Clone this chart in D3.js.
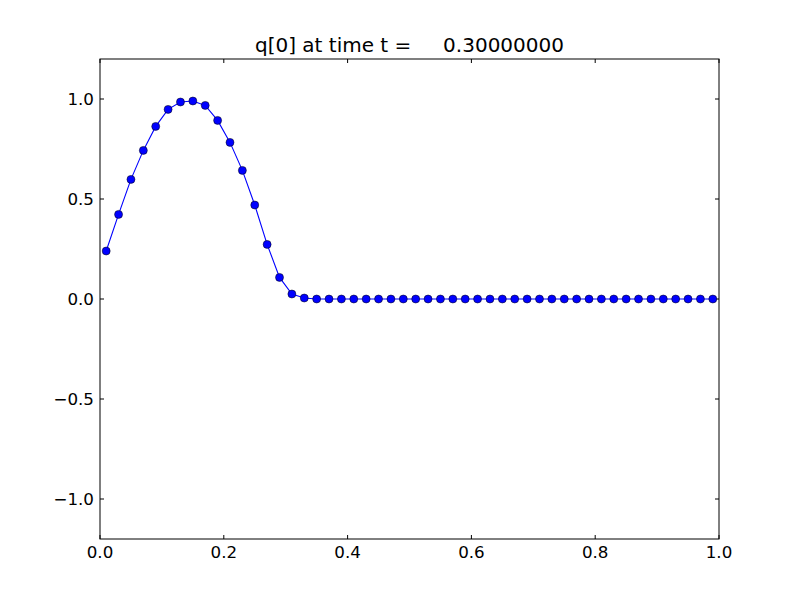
<!DOCTYPE html>
<html><head><meta charset="utf-8">
<script src="https://d3js.org/d3.v7.min.js"></script>
<style>body{margin:0;background:#fff}</style>
</head><body>
<script>
const titleText = "q[0] at time t =     0.30000000";
const xValues = [0.01,0.03,0.05,0.07,0.09,0.11,0.13,0.15,0.17,0.19,0.21,0.23,0.25,0.27,0.29,0.31,0.33,0.35,0.37,0.39,0.41,0.43,0.45,0.47,0.49,0.51,0.53,0.55,0.57,0.59,0.61,0.63,0.65,0.67,0.69,0.71,0.73,0.75,0.77,0.79,0.81,0.83,0.85,0.87,0.89,0.91,0.93,0.95,0.97,0.99];
const qValues = [0.24,0.423,0.598,0.743,0.863,0.948,0.985,0.99,0.968,0.893,0.783,0.643,0.47,0.273,0.108,0.025,0.005,0,0,0,0,0,0,0,0,0,0,0,0,0,0,0,0,0,0,0,0,0,0,0,0,0,0,0,0,0,0,0,0,0];
const xTicks = [0,0.2,0.4,0.6,0.8,1.0];
const yTicks = [-1.0,-0.5,0.0,0.5,1.0];

const W=800,H=600, L=100,R=719,T=59,B=539;
const svg=d3.select("body").append("svg").attr("width",W).attr("height",H)
  .style("font-family","'DejaVu Sans'");
svg.append("rect").attr("width",W).attr("height",H).attr("fill","#fff");
const x=d3.scaleLinear().domain([0,1]).range([L,R]);
const y=d3.scaleLinear().domain([-1.2,1.2]).range([B,T]);
const fmt=d3.format(".1f");
const minus=s=>s.replace("-","\u2212");

const tk=4;
xTicks.forEach(v=>{
  svg.append("line").attr("x1",x(v)).attr("x2",x(v)).attr("y1",B).attr("y2",B-tk).attr("stroke","#000");
  svg.append("line").attr("x1",x(v)).attr("x2",x(v)).attr("y1",T).attr("y2",T+tk).attr("stroke","#000");
  svg.append("text").attr("x",x(v)).attr("y",558).attr("text-anchor","middle").attr("font-size",16.7).text(fmt(v));
});
yTicks.forEach(v=>{
  svg.append("line").attr("x1",L).attr("x2",L+tk).attr("y1",y(v)).attr("y2",y(v)).attr("stroke","#000");
  svg.append("line").attr("x1",R).attr("x2",R-tk).attr("y1",y(v)).attr("y2",y(v)).attr("stroke","#000");
  svg.append("text").attr("x",L-6).attr("y",y(v)+6).attr("text-anchor","end").attr("font-size",16.7).text(minus(fmt(v)));
});

const data=xValues.map((v,i)=>[v,qValues[i]]);
svg.append("path").datum(data).attr("fill","none").attr("stroke","#0000ff").attr("stroke-width",1.1)
  .attr("d",d3.line().x(d=>x(d[0])).y(d=>y(d[1])));
svg.selectAll("circle.m").data(data).enter().append("circle")
  .attr("cx",d=>x(d[0])).attr("cy",d=>y(d[1])).attr("r",4)
  .attr("fill","#0000ff").attr("stroke","#000").attr("stroke-width",0.5);

svg.append("rect").attr("x",L).attr("y",T).attr("width",R-L).attr("height",B-T)
  .attr("fill","none").attr("stroke","#000").attr("stroke-width",1);

svg.append("text").attr("x",(L+R)/2).attr("y",52).attr("text-anchor","middle").attr("font-size",20)
  .attr("xml:space","preserve").style("white-space","pre").text(titleText);
</script>
</body></html>
